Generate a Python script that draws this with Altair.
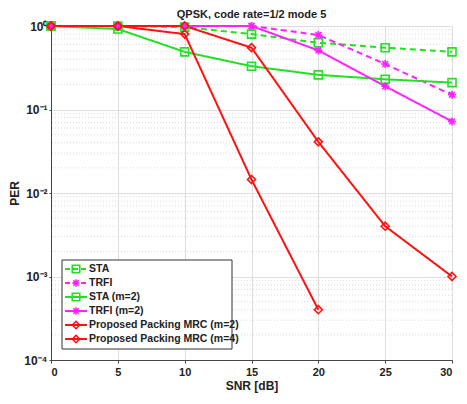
import altair as alt
import pandas as pd

snr = [0, 5, 10, 15, 20, 25, 30]
names = ["STA", "TRFI", "STA (m=2)", "TRFI (m=2)",
         "Proposed Packing MRC (m=2)", "Proposed Packing MRC (m=4)"]
sta = [1.0, 1.0, 0.97, 0.80, 0.63, 0.55, 0.49]
trfi = [1.0, 1.0, 1.0, 1.0, 0.78, 0.35, 0.15]
sta_m2 = [1.0, 0.92, 0.49, 0.33, 0.26, 0.23, 0.21]
trfi_m2 = [1.0, 1.0, 1.0, 1.0, 0.51, 0.19, 0.072]
mrc_m2 = [1.0, 1.0, 1.0, 0.55, 0.041, 0.004, 0.001]
mrc_m4 = [1.0, 1.0, 0.80, 0.0145, 0.0004]
series_vals = [sta, trfi, sta_m2, trfi_m2, mrc_m2, mrc_m4]
title_text = "QPSK, code rate=1/2 mode 5"

colors = ["#22e022", "#ff22ff", "#22e022", "#ff22ff", "#ff1111", "#ff1111"]
dashes = [[6, 4], [6, 4], [1, 0], [1, 0], [1, 0], [1, 0]]
asterisk = "M-1,0H1M0,-1V1M-0.72,-0.72L0.72,0.72M-0.72,0.72L0.72,-0.72"
shapes = ["square", asterisk, "square", asterisk, "diamond", "diamond"]

y_major = [1e-4, 1e-3, 1e-2, 1e-1, 1]
y_minor = [m * 10.0 ** k for k in range(-4, 0) for m in range(2, 10)]
x_ticks = [0, 5, 10, 15, 20, 25, 30]

rows = []
for n, vals in zip(names, series_vals):
    for x, v in zip(snr, vals):
        rows.append({"series": n, "snr": x, "per": v})
df = pd.DataFrame(rows)

FONT = "Liberation Sans"
W, H = 401, 334

xs = alt.Scale(domain=[0, 30], nice=False)
ys = alt.Scale(type="log", domain=[1e-4, 1], nice=False)

label_expr = ("datum.value >= 1 ? '10⁰' : datum.value >= 0.1 ? '10⁻¹' : "
              "datum.value >= 0.01 ? '10⁻²' : datum.value >= 0.001 ? '10⁻³' : '10⁻⁴'")

xaxis = alt.Axis(values=x_ticks, title="SNR [dB]", grid=True, gridColor="#dedede",
                 labelFontWeight="bold", labelFontSize=11, titleFontSize=12,
                 titleFontWeight="bold", labelFont=FONT, titleFont=FONT,
                 labelColor="#222", titleColor="#222", domainColor="#444",
                 tickColor="#444", tickSize=3, labelPadding=3, titlePadding=3)
yaxis = alt.Axis(values=y_major, labelExpr=label_expr, title="PER", grid=True,
                 gridColor="#dedede", labelFontWeight="bold", labelFontSize=12,
                 titleFontSize=12, titleFontWeight="bold", labelFont=FONT,
                 titleFont=FONT, labelColor="#222", titleColor="#222",
                 domainColor="#444", tickColor="#444", tickSize=2,
                 labelPadding=2, titlePadding=2)

minor = alt.Chart(pd.DataFrame({"v": y_minor})).mark_rule(
    color="#cfcfcf", strokeDash=[1, 2], strokeWidth=0.8
).encode(y=alt.Y("v:Q", scale=ys, axis=yaxis))

lines = alt.Chart(df).mark_line(strokeWidth=2).encode(
    x=alt.X("snr:Q", scale=xs, axis=xaxis),
    y=alt.Y("per:Q", scale=ys, axis=yaxis),
    color=alt.Color("series:N", scale=alt.Scale(domain=names, range=colors), legend=None),
    strokeDash=alt.StrokeDash("series:N", scale=alt.Scale(domain=names, range=dashes), legend=None),
    order=alt.Order("snr:Q"),
)

points = alt.Chart(df).mark_point(filled=False, strokeWidth=1.6, size=64, opacity=1).encode(
    x=alt.X("snr:Q", scale=xs),
    y=alt.Y("per:Q", scale=ys),
    color=alt.Color("series:N", scale=alt.Scale(domain=names, range=colors), legend=None),
    shape=alt.Shape("series:N", scale=alt.Scale(domain=names, range=shapes), legend=None),
)

data_layer = alt.layer(minor, lines, points)

# legend
leg = pd.DataFrame({
    "name": names,
    "col": colors,
    "dashed": [d[1] > 0 for d in dashes],
    "shape": shapes,
    "idx": list(range(len(names))),
})
leg_base = alt.Chart(leg).transform_calculate(py="243 + 14 * datum.idx")
box = alt.Chart(pd.DataFrame({"a": [0]})).mark_rect(
    fill="white", stroke="#333", strokeWidth=1
).encode(x=alt.value(11), x2=alt.value(181), y=alt.value(234), y2=alt.value(323))
leg_solid = leg_base.transform_filter("!datum.dashed").mark_rule(strokeWidth=2).encode(
    x=alt.value(14), x2=alt.value(36), y=alt.Y("py:Q", scale=None),
    color=alt.Color("col:N", scale=None))
leg_dash = leg_base.transform_filter("datum.dashed").mark_rule(strokeWidth=2, strokeDash=[5, 3]).encode(
    x=alt.value(14), x2=alt.value(36), y=alt.Y("py:Q", scale=None),
    color=alt.Color("col:N", scale=None))
leg_pts = leg_base.mark_point(filled=False, strokeWidth=1.6, size=56, opacity=1).encode(
    x=alt.value(25), y=alt.Y("py:Q", scale=None),
    color=alt.Color("col:N", scale=None), shape=alt.Shape("shape:N", scale=None))
leg_txt = leg_base.mark_text(align="left", baseline="middle", font=FONT, fontSize=10.5,
                             fontWeight="bold", color="#222").encode(
    x=alt.value(38), y=alt.Y("py:Q", scale=None), text="name:N")
title_mark = alt.Chart(pd.DataFrame({"t": [title_text]})).mark_text(
    align="center", baseline="middle", font=FONT, fontSize=11, fontWeight="bold", color="#222"
).encode(x=alt.value(W / 2), y=alt.value(-11), text="t:N")
legend_layer = alt.layer(box, leg_solid, leg_dash, leg_pts, leg_txt, title_mark)

chart = alt.layer(data_layer, legend_layer).resolve_scale(
    x="independent", y="independent", color="independent",
    shape="independent", strokeDash="independent"
).properties(
    width=W, height=H,
    autosize=alt.AutoSizeParams(type="none"),
    padding={"left": 43, "top": 18, "right": 7, "bottom": 36},
).configure_view(stroke="#444", strokeWidth=1).configure(background="white")

chart.save("out.html", embed_options={"renderer": "svg", "actions": False})
